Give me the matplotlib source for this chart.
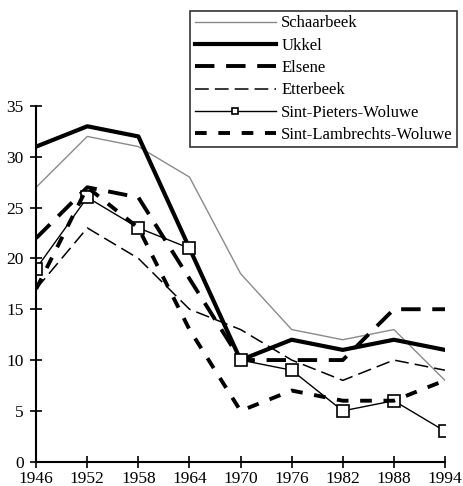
import matplotlib.pyplot as plt

plt.rcParams['font.family'] = ['Liberation Serif', 'DejaVu Serif']

years = [1946, 1952, 1958, 1964, 1970, 1976, 1982, 1988, 1994]
schaarbeek = [27, 32, 31, 28, 18.5, 13, 12, 13, 8]
ukkel = [31, 33, 32, 21, 10, 12, 11, 12, 11]
elsene = [22, 27, 26, 18, 10, 10, 10, 15, 15]
etterbeek = [17, 23, 20, 15, 13, 10, 8, 10, 9]
sint_pieters = [19, 26, 23, 21, 10, 9, 5, 6, 3]
sint_lambrechts = [17, 27, 23, 13, 5, 7, 6, 6, 8]

fig = plt.figure(figsize=(4.64, 4.86), dpi=100)
ax = fig.add_axes([0.078, 0.05, 0.881, 0.732])

ax.plot(years, schaarbeek, color='#8a8a8a', lw=1.0, label='Schaarbeek')
ax.plot(years, ukkel, color='black', lw=3.0, label='Ukkel')
ax.plot(years, elsene, color='black', lw=2.8, dashes=(5, 3), label='Elsene')
ax.plot(years, etterbeek, color='black', lw=1.1, dashes=(9, 4), label='Etterbeek')
ax.plot(years, sint_pieters, color='black', lw=1.0, marker='s', ms=8,
        mfc='white', mec='black', mew=1.2, label='Sint-Pieters-Woluwe')
ax.plot(years, sint_lambrechts, color='black', lw=2.8, dashes=(3, 3),
        label='Sint-Lambrechts-Woluwe')

ax.set_xlim(1946, 1994)
ax.set_ylim(0, 35)
ax.set_xticks(years)
ax.set_yticks(range(0, 36, 5))
for s in ['top', 'right']:
    ax.spines[s].set_visible(False)
for s in ['left', 'bottom']:
    ax.spines[s].set_linewidth(1.5)
    ax.spines[s].set_clip_on(False)
ax.tick_params(axis='both', direction='inout', length=8, width=1.2,
               labelsize=12.5)
ax.tick_params(axis='x', pad=3)
ax.tick_params(axis='y', pad=5)

leg = fig.legend(loc='upper right', bbox_to_anchor=(0.985, 0.977),
                 fontsize=12, frameon=True, fancybox=False, handlelength=4.9,
                 handletextpad=0.3, labelspacing=0.38, borderpad=0.25,
                 borderaxespad=0)
leg.get_frame().set_edgecolor('black')
leg.get_frame().set_linewidth(1.2)
leg.legend_handles[4].set_markersize(5)

fig.savefig('out.png', dpi=100)
